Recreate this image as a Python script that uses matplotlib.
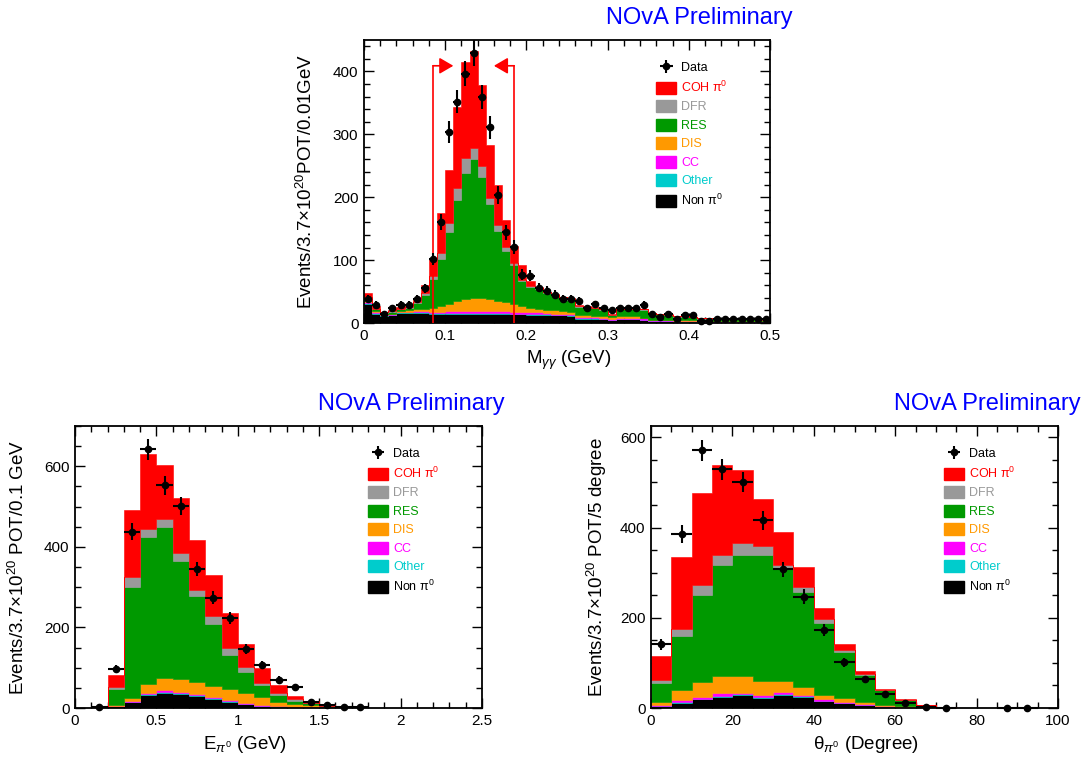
import numpy as np
import matplotlib
matplotlib.use('Agg')
import matplotlib.pyplot as plt
from matplotlib.patches import Patch
from matplotlib.ticker import MultipleLocator, FuncFormatter

plt.rcParams['font.family'] = ['Liberation Sans', 'DejaVu Sans']
plt.rcParams['mathtext.fontset'] = 'custom'
plt.rcParams['mathtext.rm'] = 'Liberation Sans'
plt.rcParams['mathtext.it'] = 'Liberation Sans:italic'
plt.rcParams['mathtext.bf'] = 'Liberation Sans:bold'

# ---------------- legend / categories ----------------
categories = ['COH π$^0$', 'DFR', 'RES', 'DIS', 'CC', 'Other', 'Non π$^0$']
cat_colors = ['#ff0000', '#999999', '#009900', '#ff9900', '#ff00ff', '#00cccc', '#000000']

# ---------------- top: M_gg, 50 bins of 0.01 GeV ----------------
m_edges = np.linspace(0, 0.5, 51)
m_nonpi0 = [31, 15, 11, 12, 16, 16, 16, 16, 15, 15, 15, 15, 15, 15, 15, 15, 15, 15, 14, 14,
            13, 13, 13, 12, 12, 11, 7, 7, 7, 6, 4, 6, 6, 6, 5, 3, 3, 3, 2, 2,
            2, 1, 1, 1, 1, 1, 1, 1, 1, 1]
m_other = [1] * 26 + [0.5] * 24
m_cc = [1, 1, 1, 1, 1, 1, 2, 2, 2, 2, 3, 3, 3, 3, 3, 3, 3, 3, 3, 3,
        3, 3, 2, 2, 2, 2, 2, 2, 2, 2, 2, 2, 2, 2, 2, 1, 1, 1, 1, 1,
        1, 1, 1, 1, 1, 1, 1, 1, 1, 1]
m_dis = [2, 2, 1, 1, 1, 2, 3, 4, 6, 9, 12, 16, 19, 21, 21, 19, 16, 14, 12, 9,
         7, 5, 5, 5, 4, 3, 3, 3, 2, 2, 3, 2, 2, 2, 1, 1, 1, 1, 1, 1,
         1, 1, 0.5, 0.5, 0.5, 0.5, 0.5, 0.5, 0.5, 0.5]
m_res = [6, 3, 2, 3, 3, 4, 10, 22, 46, 74, 114, 161, 201, 220, 192, 151, 112, 82, 62, 39,
         34, 32, 27, 24, 21, 20, 13.5, 12.5, 12.5, 10.5, 3.5, 11.5, 11.5, 11.5, 12.5, 9.5, 8.5, 7.5, 5.5, 5.5,
         4.5, 3.5, 4, 4, 3, 3, 3, 3, 3, 2]
m_dfr = [1, 1, 1, 1, 1, 1, 1, 2, 4, 10, 14, 19, 23, 19, 18, 10, 9, 6, 4, 2,
         1, 1, 1, 1, 1, 1, 0.5, 0.5, 0.5, 0.5, 0.5, 0.5, 0.5, 0.5, 0.5, 0.5, 0.5, 0.5, 0.5, 0.5,
         0.5, 0.5, 0.5, 0.5, 0.5, 0.5, 0.5, 0.5, 0.5, 0.5]
m_coh = [6, 4, 1, 1, 2, 4, 7, 14, 29, 64, 85, 129, 153, 153, 129, 84, 63, 42, 26, 24,
         8, 3, 1, 1, 1, 1, 1.5, 1.5, 1.5, 1.5, 0.5, 0.5, 1.5, 1.5, 1.5, 0.5, 0.5, 0.5, 0.5, 0.5,
         0.5, 0.5, 0.5, 0.5, 0.5, 0.5, 0.5, 0.5, 0.5, 0.5]
m_data = [38, 29, 14, 24, 29, 29, 38, 55, 102, 161, 304, 352, 396, 429, 359, 311, 203, 144, 121, 77,
          75, 56, 51, 45, 38, 38, 35, 24, 30, 24, 21, 24, 24, 24, 29, 14, 10, 15, 6, 12,
          12, 3, 3, 7, 7, 6, 6, 6, 6, 6]
m_cut_low, m_cut_high, m_arrow_len, m_arrow_y = 0.085, 0.185, 0.025, 409

# ---------------- bottom left: E_pi0, 25 bins of 0.1 GeV ----------------
e_edges = np.linspace(0, 2.5, 26)
e_nonpi0 = [0, 0, 5, 15, 33, 38, 35, 30, 22, 15, 9.5, 5, 3, 2, 1, 0.5, 0, 0, 0, 0, 0, 0, 0, 0, 0]
e_other = [0, 0, 0.5, 1, 2, 2, 2, 2, 2, 1.5, 1.5, 1, 1, 0.5, 0.3, 0, 0, 0, 0, 0, 0, 0, 0, 0, 0]
e_cc = [0, 0, 0.5, 1, 2, 5, 3, 3, 3, 3.5, 2.5, 1.5, 2, 0.5, 0.3, 0, 0, 0, 0, 0, 0, 0, 0, 0, 0]
e_dis = [0, 0, 0.5, 8, 22, 29, 32, 30, 28, 26, 23.5, 20.5, 10, 7, 5.4, 2.5, 1, 0, 0, 0, 0, 0, 0, 0, 0]
e_res = [0, 0, 40.5, 275, 366, 375, 294, 212, 154, 86, 52, 28, 16, 8, 5, 2, 1, 0, 0, 0, 0, 0, 0, 0, 0]
e_dfr = [0, 0, 6, 25, 20, 19, 19, 16, 19, 17, 13, 6, 5, 4, 1, 1, 0, 0, 0, 0, 0, 0, 0, 0, 0]
e_coh = [0, 0, 29, 166, 186, 135, 137, 124, 103, 88, 57, 37, 20, 8, 4, 2, 1, 0.5, 0, 0, 0, 0, 0, 0, 0]
e_data = [np.nan, 2, 97, 438, 642, 553, 502, 345, 274, 224, 147, 107, 70, 51, 14, 8, 2, 2,
          np.nan, np.nan, np.nan, np.nan, np.nan, np.nan, np.nan]

# ---------------- bottom right: theta_pi0, 20 bins of 5 degree ----------------
t_edges = np.linspace(0, 100, 21)
t_nonpi0 = [5, 12, 19, 25, 28, 23, 29, 25, 15, 10, 6, 3, 1, 0.5, 0, 0, 0, 0, 0, 0]
t_other = [0.5, 1, 1.5, 2, 2, 2, 2, 2, 1.5, 1, 0.5, 0.3, 0, 0, 0, 0, 0, 0, 0, 0]
t_cc = [1.5, 5, 4.5, 6, 4, 4, 4, 1, 2.5, 3, 1.5, 0.7, 1, 0.5, 0, 0, 0, 0, 0, 0]
t_dis = [7, 22, 32, 37, 38, 30, 24, 19, 10, 8, 6, 3, 2, 1, 1, 0, 0, 0, 0, 0]
t_res = [41, 120, 194, 246, 268, 279, 249, 210, 159, 103, 59, 33, 13, 4, 1, 0.3, 0, 0, 0, 0]
t_dfr = [7, 15, 22, 24, 26, 22, 8, 12, 10, 4, 2, 1, 1, 0.5, 0, 0, 0, 0, 0, 0]
t_coh = [54, 160, 204, 198, 161, 104, 74, 43, 23, 13, 6, 1, 1, 0.5, 0, 0, 0, 0, 0, 0]
t_data = [141.5, 386, 571, 529, 501, 416, 307, 247, 173, 101, 64, 30, 10, 3, 1,
          np.nan, np.nan, 1, 1, np.nan]

# ---------------- figure ----------------
W, H = 1089, 766
fig = plt.figure(figsize=(W / 100, H / 100), dpi=100)
ax1 = fig.add_axes([364 / W, 1 - 323 / H, 406 / W, 283 / H])
ax2 = fig.add_axes([75 / W, 1 - 708 / H, 407 / W, 282 / H])
ax3 = fig.add_axes([651 / W, 1 - 708 / H, 407 / W, 282 / H])


def draw_panel(ax, edges, layers_top_first, data):
    n = len(edges) - 1
    base = np.zeros(n)
    for vals, col in zip(layers_top_first[::-1], cat_colors[::-1]):
        top = base + np.asarray(vals, dtype=float)
        ax.stairs(top, edges, baseline=base, fill=True, facecolor=col,
                  edgecolor=col, linewidth=0.4, zorder=2)
        base = top
    d = np.asarray(data, dtype=float)
    centers = 0.5 * (edges[:-1] + edges[1:])
    half = 0.5 * (edges[1] - edges[0])
    m = ~np.isnan(d)
    eb = ax.errorbar(centers[m], d[m], xerr=half, yerr=np.sqrt(d[m]), fmt='o',
                     color='black', ms=4.5, lw=1.5, capsize=0, zorder=5, clip_on=False)
    for art in eb.lines[2]:
        art.set_clip_on(False)
    handles = [eb] + [Patch(facecolor=c, edgecolor=c) for c in cat_colors]
    ax.legend(handles, ['Data'] + categories,
              labelcolor=['black'] + cat_colors,
              loc='upper left', bbox_to_anchor=(0.72, 0.925), frameon=False,
              fontsize=9, handlelength=1.6, handleheight=1.1, labelspacing=0.42,
              handletextpad=0.4, borderpad=0, borderaxespad=0)
    ax.text(1 + 23 / 407, 1 + 22 / 283, 'NOvA Preliminary', transform=ax.transAxes,
            ha='right', va='center', color='#0000ff', fontsize=17)


def style(ax, xlim, ylim, xmaj, xmin, ymaj, ymin):
    ax.set_xlim(*xlim)
    ax.set_ylim(*ylim)
    ax.xaxis.set_major_locator(MultipleLocator(xmaj))
    ax.xaxis.set_minor_locator(MultipleLocator(xmin))
    ax.yaxis.set_major_locator(MultipleLocator(ymaj))
    ax.yaxis.set_minor_locator(MultipleLocator(ymin))
    fmt = FuncFormatter(lambda v, p: f'{v:g}')
    ax.xaxis.set_major_formatter(fmt)
    ax.yaxis.set_major_formatter(fmt)
    ax.tick_params(which='both', direction='in', top=True, right=True, labelsize=11, width=1)
    ax.tick_params(which='major', length=7, pad=4)
    ax.tick_params(which='minor', length=4)
    for s in ax.spines.values():
        s.set_linewidth(1.3)


# top panel
draw_panel(ax1, m_edges, [m_coh, m_dfr, m_res, m_dis, m_cc, m_other, m_nonpi0], m_data)
style(ax1, (0, 0.5), (0, 450), 0.1, 0.02, 100, 20)
ax1.plot([m_cut_low, m_cut_low], [0, m_arrow_y], color='red', lw=1.2, zorder=4)
ax1.plot([m_cut_high, m_cut_high], [0, m_arrow_y], color='red', lw=1.2, zorder=4)
aprops = dict(arrowstyle='-|>,head_length=0.6,head_width=0.35', color='red', lw=1.2,
              mutation_scale=14, shrinkA=0, shrinkB=0)
ax1.annotate('', xy=(m_cut_low + m_arrow_len, m_arrow_y), xytext=(m_cut_low, m_arrow_y),
             arrowprops=aprops, zorder=4)
ax1.annotate('', xy=(m_cut_high - m_arrow_len, m_arrow_y), xytext=(m_cut_high, m_arrow_y),
             arrowprops=aprops, zorder=4)
ax1.set_xlabel(r'M$_{\gamma\gamma}$ (GeV)', fontsize=13.5)
ax1.set_ylabel(r'Events/3.7×10$^{20}$POT/0.01GeV', fontsize=13.5)

# bottom left
draw_panel(ax2, e_edges, [e_coh, e_dfr, e_res, e_dis, e_cc, e_other, e_nonpi0], e_data)
style(ax2, (0, 2.5), (0, 700), 0.5, 0.1, 200, 50)
ax2.set_xlabel(r'E$_{\pi^0}$ (GeV)', fontsize=13.5)
ax2.set_ylabel(r'Events/3.7×10$^{20}$ POT/0.1 GeV', fontsize=13.5)

# bottom right
draw_panel(ax3, t_edges, [t_coh, t_dfr, t_res, t_dis, t_cc, t_other, t_nonpi0], t_data)
style(ax3, (0, 100), (0, 625), 20, 5, 200, 50)
ax3.set_xlabel(r'θ$_{\pi^0}$ (Degree)', fontsize=13.5)
ax3.set_ylabel(r'Events/3.7×10$^{20}$ POT/5 degree', fontsize=13.5)

for ax, xl, yl in [(ax1, 0.505, -0.143), (ax2, 0.418, -0.14), (ax3, 0.528, -0.133)]:
    ax.xaxis.label.set_va('center')
    ax.yaxis.label.set_va('center')
    ax.xaxis.set_label_coords(xl, -37 / 283)
    ax.yaxis.set_label_coords(yl, 0.5)

fig.savefig('out.png', dpi=100, facecolor='white')
